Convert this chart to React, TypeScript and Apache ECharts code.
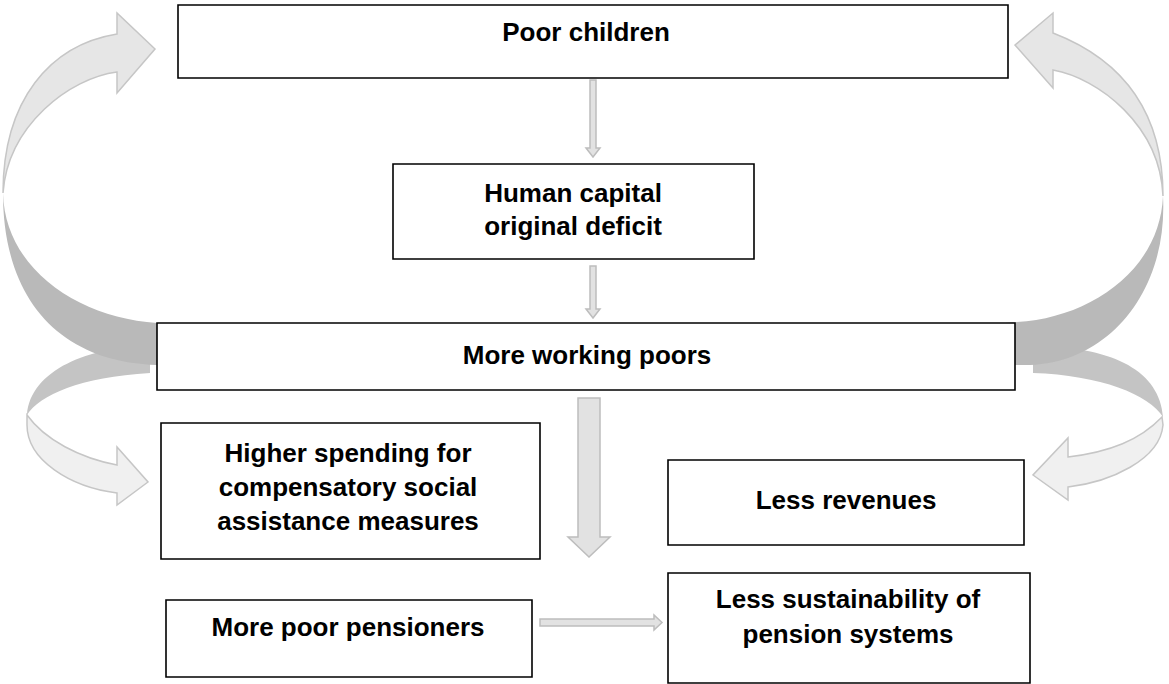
import React, { useEffect, useRef } from "react";
import * as echarts from "echarts";

// ---- Diagram content (texts) ----
const boxLabels: string[][] = [
  ["Poor children"],
  ["Human capital", "original deficit"],
  ["More working poors"],
  ["Higher spending for", "compensatory social", "assistance measures"],
  ["Less revenues"],
  ["More poor pensioners"],
  ["Less sustainability of", "pension systems"],
];

// ---- Layout (pixel geometry) ----
const boxRects = [
  { x: 178, y: 5, w: 830, h: 73 },
  { x: 393, y: 164, w: 361, h: 95 },
  { x: 157, y: 323, w: 858, h: 67 },
  { x: 161, y: 423, w: 379, h: 136 },
  { x: 668, y: 460, w: 356, h: 85 },
  { x: 166, y: 600, w: 366, h: 77 },
  { x: 668, y: 573, w: 362, h: 110 },
];
const textCenters = [
  { x: 586, y: 32, lh: 33 },
  { x: 573, y: 209, lh: 33 },
  { x: 587, y: 355, lh: 33 },
  { x: 348, y: 487, lh: 34 },
  { x: 846, y: 500, lh: 33 },
  { x: 348, y: 627, lh: 33 },
  { x: 848, y: 616, lh: 35 },
];

const curvedPaths: { name: string; d: string; fill: string; stroke: string }[] = [
  // lower-left (dark back)
  { name: "llDark", d: "M150,346 C90,346 30,370 27,415 C40,395 80,377 150,373 Z", fill: "#c4c4c4", stroke: "none" },
  // lower-right (dark back)
  { name: "lrDark", d: "M1033,347 C1110,345 1160,370 1163,417 C1150,395 1100,375 1033,373 Z", fill: "#c4c4c4", stroke: "none" },
  // upper-left dark
  { name: "ulDark", d: "M3,193 C3,300 60,362 157,365 L165,365 L165,323 L157,323 C80,318 5,270 3,193 Z", fill: "#b9b9b9", stroke: "none" },
  // upper-right dark
  { name: "urDark", d: "M1163,196 C1168,290 1110,362 1030,365 L1005,365 L1005,323 L1017,322 C1090,318 1160,270 1163,196 Z", fill: "#b9b9b9", stroke: "none" },
  // upper-left light
  { name: "ulLight", d: "M155,49 L117,13 L117,34 C50,45 3,100 3,193 C8,125 70,78 117,72 L117,93 Z", fill: "#e6e6e6", stroke: "#c6c6c6" },
  // upper-right light
  { name: "urLight", d: "M1015,45 L1053,13 L1053,33 C1110,55 1163,100 1163,196 C1160,125 1098,78 1053,70 L1053,88 Z", fill: "#e6e6e6", stroke: "#c6c6c6" },
  // lower-left light
  { name: "llLight", d: "M27,415 C45,440 80,458 117,465 L117,447 L148,482 L117,505 L117,493 C70,487 27,460 27,425 Z", fill: "#f0f0f0", stroke: "#c6c6c6" },
  // lower-right light
  { name: "lrLight", d: "M1162,417 C1140,440 1110,452 1068,457 L1068,438 L1033,475 L1068,500 L1068,487 C1110,482 1160,460 1163,425 Z", fill: "#f0f0f0", stroke: "#c6c6c6" },
];

function downArrow(cx: number, y0: number, tip: number, sh: number, hh: number, hl: number) {
  const yh = tip - hl;
  return [
    [cx - sh, y0], [cx + sh, y0], [cx + sh, yh], [cx + hh, yh],
    [cx, tip], [cx - hh, yh], [cx - sh, yh],
  ];
}
function rightArrow(cy: number, x0: number, tip: number, sh: number, hh: number, hl: number) {
  const xh = tip - hl;
  return [
    [x0, cy - sh], [xh, cy - sh], [xh, cy - hh], [tip, cy],
    [xh, cy + hh], [xh, cy + sh], [x0, cy + sh],
  ];
}

export default function App() {
  const ref = useRef<HTMLDivElement>(null);
  useEffect(() => {
    if (!ref.current) return;
    curvedPaths.forEach((p) => {
      echarts.graphic.registerShape(p.name, echarts.graphic.extendPath(p.d, {}) as any);
    });
    const chart = echarts.init(ref.current, null, { renderer: "svg" });
    const elements: any[] = [];
    curvedPaths.forEach((p) => {
      elements.push({
        type: p.name,
        x: 0,
        y: 0,
        style: { fill: p.fill, stroke: p.stroke === "none" ? null : p.stroke, lineWidth: 1.5 },
      });
    });
    const arrowStyle = { fill: "#e2e2e2", stroke: "#bdbdbd", lineWidth: 1.5 };
    elements.push({ type: "polygon", shape: { points: downArrow(593, 80, 157, 3, 7, 9) }, style: arrowStyle });
    elements.push({ type: "polygon", shape: { points: downArrow(593, 266, 318, 3, 7, 9) }, style: arrowStyle });
    elements.push({ type: "polygon", shape: { points: downArrow(589, 398, 557, 11, 21, 20) }, style: arrowStyle });
    elements.push({ type: "polygon", shape: { points: rightArrow(622.5, 540, 662, 3.5, 7.5, 8) }, style: arrowStyle });

    boxRects.forEach((r, i) => {
      elements.push({
        type: "rect",
        shape: { x: r.x, y: r.y, width: r.w, height: r.h },
        style: { fill: "#ffffff", stroke: "#000000", lineWidth: 1.6 },
      });
      const t = textCenters[i];
      elements.push({
        type: "text",
        x: t.x,
        y: t.y,
        style: {
          text: boxLabels[i].join("\n"),
          fill: "#000000",
          font: "bold 26px 'Liberation Sans', Arial, sans-serif",
          lineHeight: t.lh,
          align: "center",
          verticalAlign: "middle",
          textAlign: "center",
          textVerticalAlign: "middle",
        },
      });
    });

    chart.setOption({
      animation: false,
      backgroundColor: "#ffffff",
      graphic: { elements },
    });
    return () => chart.dispose();
  }, []);
  return (
    <div
      ref={ref}
      style={{ position: "absolute", left: 0, top: 0, width: 1169, height: 684 }}
    />
  );
}
